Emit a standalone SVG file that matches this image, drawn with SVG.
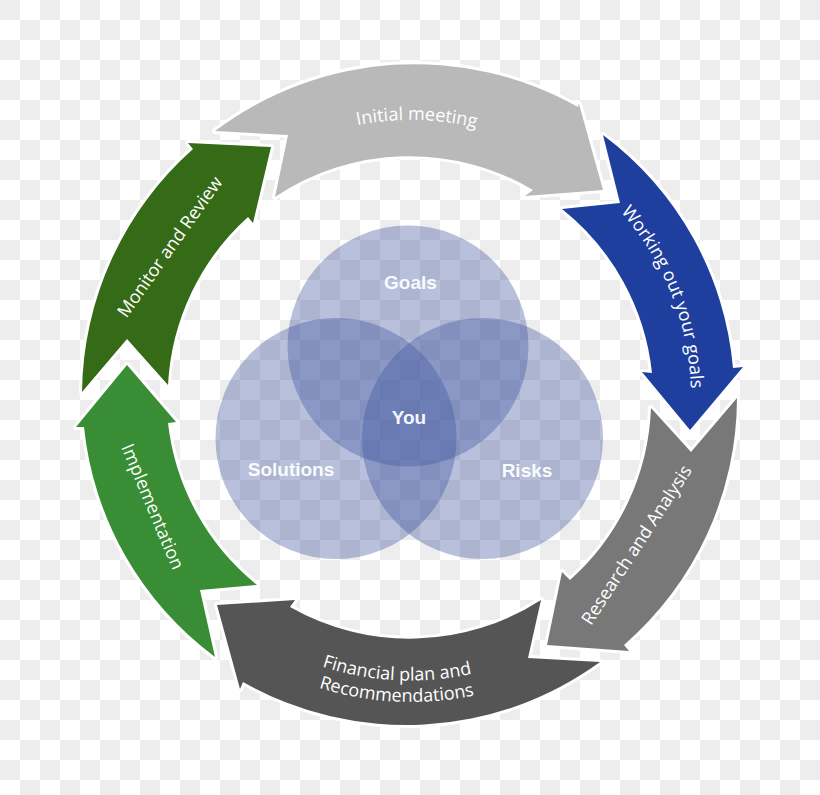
<svg xmlns="http://www.w3.org/2000/svg" xmlns:xlink="http://www.w3.org/1999/xlink" width="820" height="795" viewBox="0 0 820 795">
<style>
.arrow{stroke:#fff;stroke-width:6;stroke-linejoin:round;paint-order:stroke}
.lbl{font-family:"Open Sans","Noto Sans",sans-serif;font-size:18px;fill:#fff;text-anchor:middle}
.venn{fill:#3f55a0;fill-opacity:0.37}
.vl{font-family:"Liberation Sans",Arial,sans-serif;font-weight:bold;font-size:19px;fill:#fff;fill-opacity:0.95;text-anchor:middle}
</style>
<defs>
<pattern id="chk" width="40" height="40" patternUnits="userSpaceOnUse">
<rect width="40" height="40" fill="#ffffff"/>
<rect width="20" height="20" fill="#ededed"/>
<rect x="20" y="20" width="20" height="20" fill="#ededed"/>
</pattern>
<path id="p-init" d="M236.8,181.3 A278,278 0 0 1 594.1,188.8"/>
<path id="p-work" d="M544.3,151.3 A280,280 0 0 1 677,485"/>
<path id="p-fin1" d="M218,604.9 A282,282 0 0 0 581.5,622.6"/>
<path id="p-fin2" d="M204.4,621 A304,304 0 0 0 594.8,640.1"/>
</defs>
<rect width="820" height="795" fill="url(#chk)"/>

<g id="venn">
<g id="goals">
<circle class="venn" cx="408" cy="346" r="120.5"/>
<text class="vl" x="410.5" y="289">Goals</text>
</g>
<g id="solutions">
<circle class="venn" cx="336" cy="438.5" r="120.5"/>
<text class="vl" x="291" y="476">Solutions</text>
</g>
<g id="risks">
<circle class="venn" cx="482.5" cy="438.5" r="120.5"/>
<text class="vl" x="527" y="476.5">Risks</text>
</g>
<g id="you">
<text class="vl" x="409" y="424">You</text>
</g>
</g>

<g id="connectors">
<g id="initial-meeting">
<path class="arrow" fill="#b9b9b9" d="M215,131 A332,332 0 0 1 578,107 L579,104 L603,190 L525,196 L533,190 A242,242 0 0 0 275,197 L288,135 Z"/>
<text class="lbl"><textPath xlink:href="#p-init" href="#p-init" startOffset="50%">Initial meeting</textPath></text>
</g>
<g id="working-out">
<path class="arrow" fill="#1f3f9f" d="M603,135 A326,326 0 0 1 733,368 L743,367 L690,430 L642,372 L652,373 A242,242 0 0 0 562,209 L620,203 Z"/>
<text class="lbl"><textPath xlink:href="#p-work" href="#p-work" startOffset="50%">Working out your goals</textPath></text>
</g>
<g id="research">
<path class="arrow" fill="#787878" d="M737,398 A328,328 0 0 1 624,645 L629,651 L547,645 L562,572 L570,580 A242,242 0 0 0 651,408 L691,452 Z"/>
<text class="lbl" transform="translate(636.7,545) rotate(-56.9)" y="6">Research and Analysis</text>
</g>
<g id="financial-plan">
<path class="arrow" fill="#555555" d="M600,662 A330,330 0 0 1 243,682 L240,689 L217,605 L295,600 L290,607 A242,242 0 0 0 541,600 L528,658 Z"/>
<text class="lbl"><textPath xlink:href="#p-fin1" href="#p-fin1" startOffset="50%">Financial plan and</textPath></text>
<text class="lbl"><textPath xlink:href="#p-fin2" href="#p-fin2" startOffset="50%">Recommendations</textPath></text>
</g>
<g id="implementation">
<path class="arrow" fill="#388d35" d="M215,657 A328,328 0 0 1 84,427 L76,427 L127,365 L176,422 L168,423 A243,243 0 0 0 257,585 L200,590 Z"/>
<text class="lbl" transform="translate(152.5,506.7) rotate(67.3)" y="6">Implementation</text>
</g>
<g id="monitor-review">
<path class="arrow" fill="#356a16" d="M82,392 A330,330 0 0 1 193,149 L188,143 L271,147 L253,223 L248,217 A243,243 0 0 0 168,385 L127,339 Z"/>
<text class="lbl" transform="translate(170,247) rotate(-54.7)" y="6">Monitor and Review</text>
</g>
</g>
</svg>
